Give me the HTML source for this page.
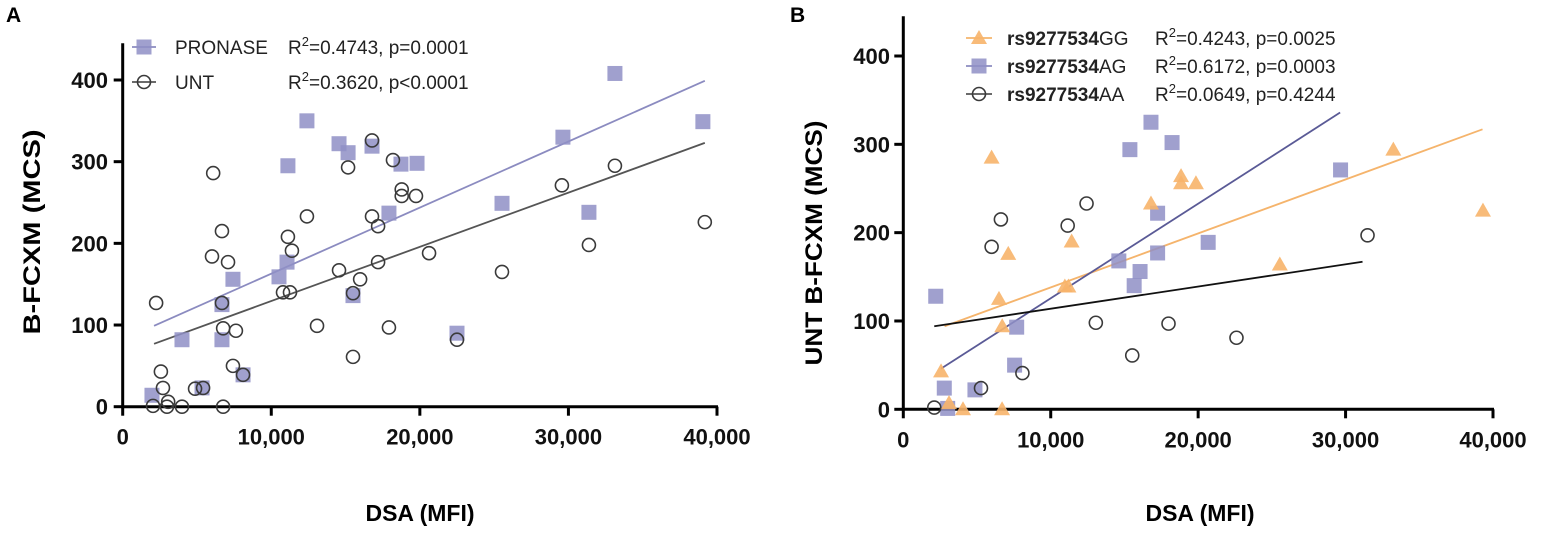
<!DOCTYPE html>
<html><head><meta charset="utf-8"><style>
body{margin:0;background:#fff;}
svg{display:block;font-family:"Liberation Sans",Arial,sans-serif;}
</style></head><body>
<svg id="fig" width="1548" height="534" viewBox="0 0 1548 534" xmlns="http://www.w3.org/2000/svg">
<g id="pa"></g>
<g id="pb"></g>
</svg>
<script>
// ---------- Panel A data ----------
const xTicks = [0, 10000, 20000, 30000, 40000];
const xTickLabels = ["0", "10,000", "20,000", "30,000", "40,000"];
const yTicksA = [0, 100, 200, 300, 400];
const yTicksB = [0, 100, 200, 300, 400];
const pronaseX = [1970,3990,6680,6680,7420,5340,8100,11120,12400,10520,11060,14560,15170,16780,17920,15500,18730,19810,25530,29630,33130,31380,39050,22500];
const pronaseY = [14,82,125,82,156,23,39,295,350,159,177,322,311,319,237,136,297,298,249,330,408,238,349,90];
const untX = [2250,2570,2710,2040,3060,2980,3990,6760,6090,6680,6010,7090,6680,6760,7620,7420,8100,4870,5410,10790,11260,11120,11390,12400,13080,14560,15170,15500,15500,15980,16780,16780,17190,17190,17920,18190,18780,18780,19740,20620,25530,29560,31380,33130,39180,22500];
const untY = [127,43,23,1,6,0,0,0,286,215,184,177,127,96,93,50,39,22,23,140,140,208,191,233,99,167,293,61,139,156,326,233,221,177,97,302,266,258,258,188,165,271,198,295,226,82];
const pronaseFitX = [2110, 39180];
const pronaseFitY = [99, 399];
const untFitX = [2110, 39180];
const untFitY = [77, 323];
// ---------- Panel B data ----------
const ggX = [5990,7120,6490,6710,2560,3100,4050,6700,11420,10960,11200,16800,18840,18840,19850,25540,33240,39320];
const ggY = [285,176,125,94,43,7,0,0,190,139,139,233,264,256,256,164,294,225];
const agX = [2200,2780,3010,4860,7550,7690,14620,16060,15660,15370,16800,18230,17250,17250,20680,29660];
const agY = [128,24,1,22,50,93,168,156,140,294,325,302,222,177,189,271];
const aaX = [2100,5270,8080,5990,6620,11150,12430,13060,15530,17990,22600,31490];
const aaY = [2,24,41,184,215,208,233,98,61,97,81,197];
const ggFitX = [2800, 39290];
const ggFitY = [94, 317];
const agFitX = [2560, 29630];
const agFitY = [46, 336];
const aaFitX = [2100, 31150];
const aaFitY = [94, 167];

const NS = "http://www.w3.org/2000/svg";
function mk(parent, tag, attrs, text){
  const e = document.createElementNS(NS, tag);
  for (const k in attrs) e.setAttribute(k, attrs[k]);
  if (text !== undefined) e.textContent = text;
  parent.appendChild(e);
  return e;
}
function axes(x0, x1, y0, y1){
  return {
    sx: v => x0 + (v/40000)*(x1-x0),
    sy: v => y0 - (v/400)*(y0-y1)
  };
}
const SQ = "#8f8fc6", TRI = "#f7b46a", CIR = "#3a3a3a";

function drawSquare(g, x, y){
  return mk(g, "rect", {x:x-7.5, y:y-7.5, width:15, height:15, fill:SQ, "fill-opacity":0.85});
}
function drawCircle(g, x, y){
  return mk(g, "circle", {cx:x, cy:y, r:6.5, fill:"none", stroke:CIR, "stroke-width":1.6});
}
function drawTri(g, x, y){
  return mk(g, "polygon", {points:`${x},${y-8} ${x-8},${y+6} ${x+8},${y+6}`, fill:TRI, "fill-opacity":0.9});
}

function frame(g, A, ox, oy, yTicks, yLabelX){
  const ax = mk(g, "path", {d:`M${ox} ${A.sy(445)} V${oy} H${A.sx(40000)+1}`, fill:"none", stroke:"#000", "stroke-width":3});
  
  
  xTicks.forEach((v,i)=>{
    const x = A.sx(v);
    const t = mk(g, "line", {x1:x, x2:x, y1:oy, y2:oy+9, stroke:"#000", "stroke-width":3});
    
    
    const l = mk(g, "text", {x:x, y:oy+38, "font-size":22, "font-weight":"bold", "text-anchor":"middle", fill:"#111"}, xTickLabels[i]);
    
    
  });
  yTicks.forEach(v=>{
    const y = A.sy(v);
    const t = mk(g, "line", {x1:ox-9, x2:ox, y1:y, y2:y, stroke:"#000", "stroke-width":3});
    
    
    const l = mk(g, "text", {x:yLabelX, y:y+8, "font-size":22, "font-weight":"bold", "text-anchor":"end", fill:"#111"}, String(v));
    
    
  });
}

// ---------- Panel A ----------
(function(){
  const g = document.getElementById("pa");
  const A = axes(122.7, 717, 406.7, 80);
  frame(g, A, 122.7, 406.7, yTicksA, 108);
  let e;
  e = mk(g, "text", {x:6, y:22, "font-size":21, "font-weight":"bold"}, "A");
  
  
  e = mk(g, "text", {x:0, y:0, "font-size":24, "font-weight":"bold", "text-anchor":"middle", textLength:205, lengthAdjust:"spacingAndGlyphs", transform:"translate(40,232) rotate(-90)"}, "B-FCXM (MCS)");
  
  
  e = mk(g, "text", {x:420, y:521, "font-size":23, "font-weight":"bold", "text-anchor":"middle"}, "DSA (MFI)");
  
  
  e = mk(g, "line", {x1:A.sx(pronaseFitX[0]), y1:A.sy(pronaseFitY[0]), x2:A.sx(pronaseFitX[1]), y2:A.sy(pronaseFitY[1]), stroke:"#8b8bc0", "stroke-width":1.8});
  
  
  e = mk(g, "line", {x1:A.sx(untFitX[0]), y1:A.sy(untFitY[0]), x2:A.sx(untFitX[1]), y2:A.sy(untFitY[1]), stroke:"#555", "stroke-width":1.8});
  
  
  pronaseX.forEach((v,i)=>{
    const p = drawSquare(g, A.sx(v), A.sy(pronaseY[i]));
    
    
  });
  untX.forEach((v,i)=>{
    const p = drawCircle(g, A.sx(v), A.sy(untY[i]));
    
    
  });
  const lg = mk(g, "g", {});
  
  
  mk(lg, "line", {x1:132, x2:156, y1:47, y2:47, stroke:"#8b8bc0", "stroke-width":1.8});
  drawSquare(lg, 144, 47);
  e = mk(lg, "text", {x:175, y:54, "font-size":19, fill:"#222"}, "PRONASE");
  
  
  e = mk(lg, "text", {x:288, y:54, "font-size":19, fill:"#222"});
  e.innerHTML = 'R<tspan dy="-8" font-size="13">2</tspan><tspan dy="8">=0.4743, p=0.0001</tspan>';
  
  
  mk(lg, "line", {x1:132, x2:156, y1:82, y2:82, stroke:"#555", "stroke-width":1.8});
  drawCircle(lg, 144, 82);
  e = mk(lg, "text", {x:175, y:89, "font-size":19, fill:"#222"}, "UNT");
  
  
  e = mk(lg, "text", {x:288, y:89, "font-size":19, fill:"#222"});
  e.innerHTML = 'R<tspan dy="-8" font-size="13">2</tspan><tspan dy="8">=0.3620, p&lt;0.0001</tspan>';
  
  
})();

// ---------- Panel B ----------
(function(){
  const g = document.getElementById("pb");
  const A = axes(903.3, 1493, 409.3, 56);
  frame(g, A, 903.3, 409.3, yTicksB, 890);
  let e;
  e = mk(g, "text", {x:790, y:22, "font-size":21, "font-weight":"bold"}, "B");
  
  
  e = mk(g, "text", {x:0, y:0, "font-size":24, "font-weight":"bold", "text-anchor":"middle", textLength:245, lengthAdjust:"spacingAndGlyphs", transform:"translate(822,243) rotate(-90)"}, "UNT B-FCXM (MCS)");
  
  
  e = mk(g, "text", {x:1200, y:521, "font-size":23, "font-weight":"bold", "text-anchor":"middle"}, "DSA (MFI)");
  
  
  e = mk(g, "line", {x1:A.sx(ggFitX[0]), y1:A.sy(ggFitY[0]), x2:A.sx(ggFitX[1]), y2:A.sy(ggFitY[1]), stroke:"#f5b46c", "stroke-width":1.8});
  
  
  e = mk(g, "line", {x1:A.sx(agFitX[0]), y1:A.sy(agFitY[0]), x2:A.sx(agFitX[1]), y2:A.sy(agFitY[1]), stroke:"#5a5a96", "stroke-width":1.8});
  
  
  e = mk(g, "line", {x1:A.sx(aaFitX[0]), y1:A.sy(aaFitY[0]), x2:A.sx(aaFitX[1]), y2:A.sy(aaFitY[1]), stroke:"#111", "stroke-width":1.8});
  
  
  agX.forEach((v,i)=>{
    const p = drawSquare(g, A.sx(v), A.sy(agY[i]));
    
    
  });
  aaX.forEach((v,i)=>{
    const p = drawCircle(g, A.sx(v), A.sy(aaY[i]));
    
    
  });
  ggX.forEach((v,i)=>{
    const p = drawTri(g, A.sx(v), A.sy(ggY[i]));
    
    
  });
  const lg = mk(g, "g", {});
  
  
  const rows = [
    {y:38, geno:"GG", stat:"=0.4243, p=0.0025", col:"#f5b46c", m:"tri"},
    {y:66, geno:"AG", stat:"=0.6172, p=0.0003", col:"#8b8bc0", m:"sq"},
    {y:94, geno:"AA", stat:"=0.0649, p=0.4244", col:"#555", m:"ci"}
  ];
  rows.forEach(r=>{
    mk(lg, "line", {x1:966, x2:992, y1:r.y, y2:r.y, stroke:r.col, "stroke-width":1.8});
    if (r.m==="tri") drawTri(lg, 979, r.y);
    else if (r.m==="sq") drawSquare(lg, 979, r.y);
    else drawCircle(lg, 979, r.y);
    const t = mk(lg, "text", {x:1007, y:r.y+7, "font-size":19, fill:"#222"});
    t.innerHTML = '<tspan font-weight="bold">rs9277534</tspan>' + r.geno;
    
    
    const s = mk(lg, "text", {x:1155, y:r.y+7, "font-size":19, fill:"#222"});
    s.innerHTML = 'R<tspan dy="-8" font-size="13">2</tspan><tspan dy="8">' + r.stat + '</tspan>';
    
    
  });
})();
</script>
</body></html>
